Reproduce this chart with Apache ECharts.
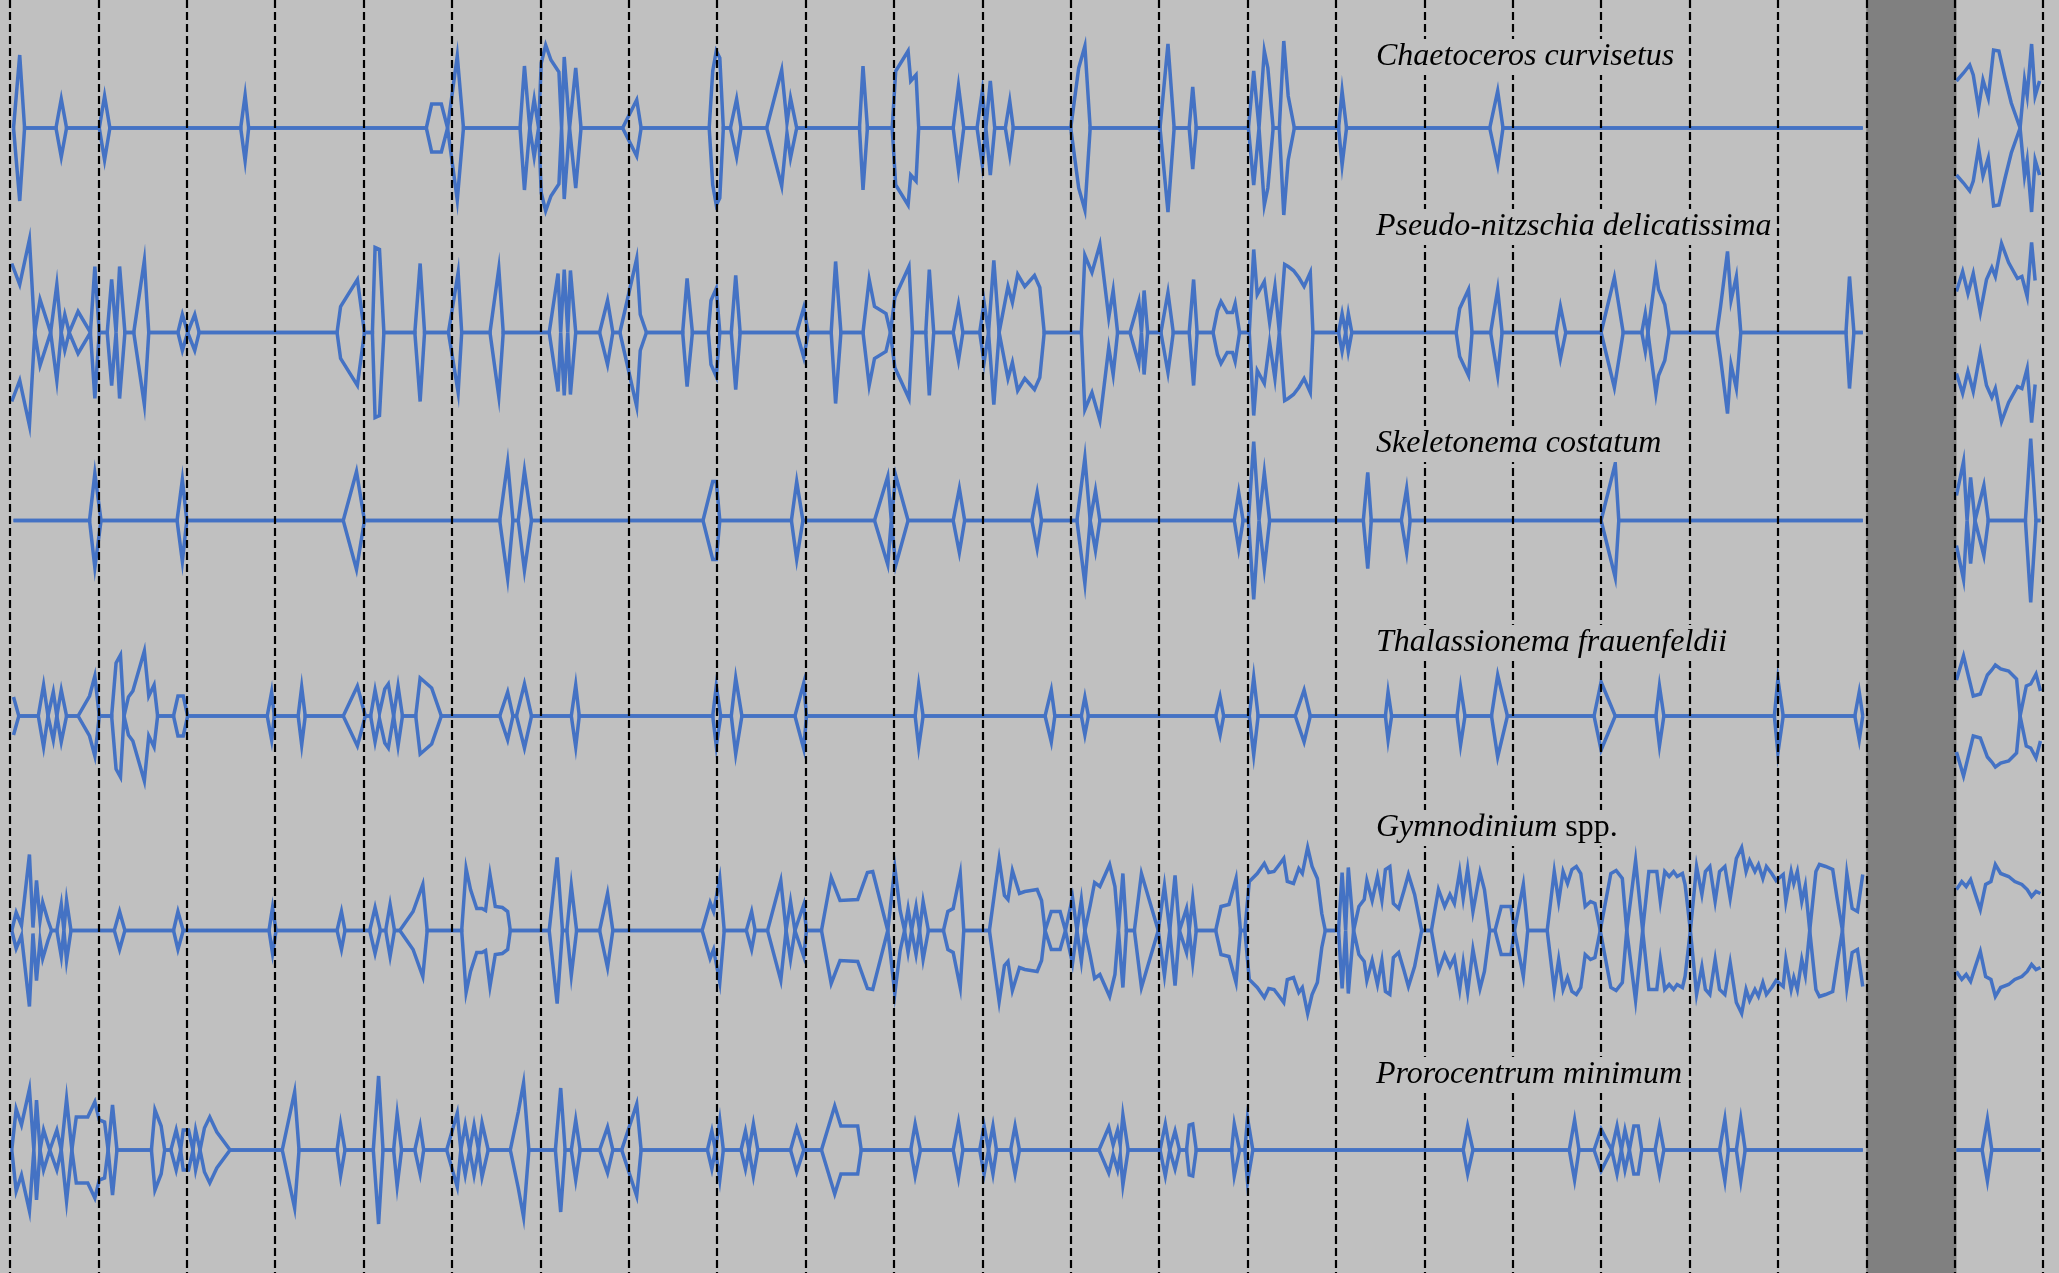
<!DOCTYPE html>
<html><head><meta charset="utf-8">
<script src="https://cdn.jsdelivr.net/npm/echarts@6/dist/echarts.min.js"></script>
<style>html,body{margin:0;padding:0;background:#c0c0c0;overflow:hidden}#chart{width:2059px;height:1273px}</style>
</head><body><div id="chart"></div>
<script>
// Time in years from the first yearly divider (dividers at 0..23); values: kite half-width (abundance units)
const yearTicks = [0,1,2,3,4,5,6,7,8,9,10,11,12,13,14,15,16,17,18,19,20,21,22,23];
const gapYears = [21, 22.02];

const chaetoceros = [[0.04,0],[0.11,7.3],[0.165,0],[0.52,0],[0.58,2.9],[0.64,0],[1.01,0],[1.07,3.2],[1.13,0],[2.61,0],[2.66,3.3],[2.70,0],[4.71,0],[4.77,2.4],[4.88,2.4],[4.95,0],[5.06,7.2],[5.13,0],[5.77,0],[5.82,6.2],[5.88,0],[5.93,2.9],[5.98,0],[6.01,6.5],[6.06,8.3],[6.12,6.8],[6.21,5.6],[6.24,0],[6.27,7.1],[6.33,0],[6.40,6.0],[6.46,0],[6.93,0],[7.09,2.8],[7.14,0],[7.91,0],[7.95,5.7],[7.99,7.7],[8.03,7.0],[8.07,0],[8.15,0],[8.22,2.9],[8.27,0],[8.56,0],[8.73,5.8],[8.79,0.5],[8.83,3.0],[8.90,0],[9.61,0],[9.65,6.2],[9.70,0],[9.98,0],[10.02,5.7],[10.16,7.7],[10.19,4.7],[10.25,5.3],[10.28,0],[10.67,0],[10.73,4.2],[10.79,0],[10.94,0],[11.0,3.7],[11.04,0],[11.09,4.7],[11.14,0],[11.26,0],[11.31,2.7],[11.35,0],[12.0,0],[12.09,6.0],[12.16,8.2],[12.22,0],[13.01,0],[13.10,8.4],[13.17,0],[13.34,0],[13.38,4.1],[13.42,0],[14.01,0],[14.07,5.7],[14.13,0],[14.19,7.7],[14.23,6.0],[14.29,0],[14.36,0],[14.41,8.7],[14.46,3.2],[14.53,0],[15.03,0],[15.07,3.7],[15.12,0],[16.74,0],[16.83,3.7],[16.89,0],[20.96,0],null,[22.02,4.7],[22.10,5.5],[22.17,6.3],[22.21,5.3],[22.27,2.0],[22.32,4.8],[22.38,3.0],[22.44,7.8],[22.50,7.7],[22.57,5.0],[22.64,2.5],[22.74,0],[22.79,4.8],[22.82,3.2],[22.87,8.4],[22.91,3.2],[22.96,4.7]];

const pseudoNitzschia = [[0.02,6.9],[0.11,4.8],[0.22,9.3],[0.28,0],[0.34,3.3],[0.46,0],[0.53,4.8],[0.58,0],[0.62,1.8],[0.67,0],[0.77,2.1],[0.91,0],[0.96,6.6],[1.01,0],[1.10,0],[1.15,5.3],[1.20,0],[1.24,6.6],[1.30,0],[1.40,0],[1.52,7.2],[1.57,0],[1.90,0],[1.95,1.8],[2.01,0],[2.09,1.8],[2.14,0],[3.70,0],[3.74,2.6],[3.93,5.3],[4.01,0],[4.10,0],[4.13,8.5],[4.18,8.3],[4.23,0],[4.58,0],[4.64,6.9],[4.69,0],[4.96,0],[5.01,2.7],[5.07,6.0],[5.11,0],[5.43,0],[5.53,6.4],[5.58,0],[6.10,0],[6.20,5.9],[6.23,0],[6.27,6.3],[6.31,0],[6.34,6.2],[6.40,0],[6.67,0],[6.76,3.2],[6.82,0],[6.90,0],[7.09,7.4],[7.13,1.8],[7.20,0],[7.61,0],[7.66,5.4],[7.72,0],[7.90,0],[7.93,3.2],[7.99,4.4],[8.03,0],[8.16,0],[8.21,5.7],[8.26,0],[8.90,0],[8.98,2.5],[9.03,0],[9.29,0],[9.34,7.1],[9.40,0],[9.65,0],[9.72,5.3],[9.78,2.6],[9.91,1.9],[9.96,0],[10.01,3.5],[10.17,6.6],[10.21,0],[10.36,0],[10.40,6.3],[10.45,0],[10.67,0],[10.73,2.8],[10.78,0],[10.97,0],[11.02,3.0],[11.07,0],[11.13,7.2],[11.19,0],[11.29,4.6],[11.34,3.0],[11.40,5.8],[11.48,4.6],[11.59,5.7],[11.65,4.5],[11.70,0],[12.12,0],[12.16,7.7],[12.24,6.0],[12.33,8.8],[12.43,1.5],[12.48,4.2],[12.53,0],[12.67,0],[12.77,3.1],[12.80,0],[12.83,4.2],[12.87,0],[13.02,0],[13.10,4.0],[13.16,0],[13.34,0],[13.39,5.3],[13.43,0],[13.61,0],[13.66,2.2],[13.70,3.1],[13.77,2.0],[13.83,2.0],[13.86,2.9],[13.91,0],[14.02,0],[14.07,8.3],[14.11,3.8],[14.19,5.1],[14.25,1.0],[14.31,4.6],[14.36,0],[14.42,6.8],[14.46,6.6],[14.52,6.2],[14.58,5.5],[14.64,4.6],[14.71,6.0],[14.74,0],[15.03,0],[15.07,1.9],[15.11,0],[15.14,1.9],[15.18,0],[16.36,0],[16.40,2.4],[16.50,4.3],[16.54,0],[16.75,0],[16.83,4.3],[16.88,0],[17.49,0],[17.54,2.6],[17.60,0],[18.0,0],[18.15,5.5],[18.25,0],[18.46,0],[18.50,1.9],[18.53,0],[18.62,6.1],[18.65,4.3],[18.72,2.8],[18.77,0],[19.31,0],[19.35,2.5],[19.43,8.1],[19.47,3.2],[19.53,5.6],[19.58,0],[20.77,0],[20.81,5.6],[20.86,0],[20.96,0],null,[22.02,4.1],[22.09,6.1],[22.15,3.9],[22.21,5.9],[22.29,2.0],[22.36,5.3],[22.42,6.5],[22.46,5.6],[22.53,8.9],[22.61,7.0],[22.71,5.4],[22.76,5.6],[22.82,3.6],[22.87,9.0],[22.91,5.2]];

const skeletonema = [[0.04,0],[0.90,0],[0.96,4.7],[1.03,0],[1.89,0],[1.95,4.1],[2.0,0],[3.77,0],[3.92,4.9],[4.01,0],[5.54,0],[5.63,5.8],[5.69,0],[5.75,0],[5.82,5.0],[5.90,0],[7.84,0],[7.95,3.9],[7.99,3.9],[8.03,0],[8.84,0],[8.90,3.9],[8.97,0],[9.78,0],[9.93,4.4],[9.97,0],[10.02,4.5],[10.16,0],[10.67,0],[10.74,3.2],[10.80,0],[11.56,0],[11.62,2.8],[11.67,0],[12.07,0],[12.16,6.3],[12.22,0],[12.28,3.0],[12.33,0],[13.85,0],[13.90,2.8],[13.95,0],[14.01,0],[14.07,7.9],[14.13,0],[14.19,4.8],[14.25,0],[15.31,0],[15.36,4.8],[15.40,0],[15.74,0],[15.80,3.2],[15.84,0],[18.0,0],[18.16,5.7],[18.20,0],[20.96,0],null,[22.02,2.5],[22.10,5.9],[22.14,0],[22.18,4.3],[22.23,0],[22.33,3.5],[22.38,0],[22.80,0],[22.86,8.2],[22.92,0],[22.97,0]];

const thalassionema = [[0.04,1.9],[0.10,0],[0.32,0],[0.38,3.1],[0.43,0],[0.49,2.4],[0.53,0],[0.58,2.6],[0.64,0],[0.77,0],[0.90,2.0],[0.96,4.0],[1.01,0],[1.15,0],[1.20,5.3],[1.25,6.1],[1.29,0],[1.34,1.9],[1.39,2.5],[1.52,6.5],[1.57,2.0],[1.63,3.1],[1.67,0],[1.85,0],[1.90,2.0],[1.96,2.0],[2.01,0],[2.91,0],[2.96,2.4],[2.99,0],[3.26,0],[3.30,2.9],[3.34,0],[3.77,0],[3.93,3.0],[4.02,0],[4.08,0],[4.13,2.6],[4.18,0.3],[4.24,2.7],[4.28,3.2],[4.34,0],[4.39,3.0],[4.44,0],[4.59,0],[4.64,3.8],[4.68,3.5],[4.77,2.8],[4.88,0],[5.54,0],[5.63,2.4],[5.69,0],[5.73,0],[5.82,3.2],[5.90,0],[6.35,0],[6.40,3.1],[6.44,0],[7.95,0],[7.99,3.0],[8.04,0],[8.16,0],[8.21,3.8],[8.28,0],[8.88,0],[8.98,3.3],[9.01,0],[10.24,0],[10.28,3.1],[10.33,0],[11.71,0],[11.78,2.6],[11.82,0],[12.12,0],[12.16,1.9],[12.20,0],[13.64,0],[13.69,1.9],[13.73,0],[14.02,0],[14.07,3.9],[14.12,0],[14.54,0],[14.64,2.6],[14.71,0],[15.56,0],[15.59,2.4],[15.63,0],[16.37,0],[16.41,2.9],[16.46,0],[16.76,0],[16.83,4.1],[16.94,0],[17.92,0],[18.0,3.4],[18.16,0],[18.62,0],[18.66,3.0],[18.71,0],[19.96,0],[20.0,3.7],[20.06,0],[20.87,0],[20.92,2.4],[20.96,0],null,[22.02,3.6],[22.10,6.0],[22.21,2.0],[22.29,2.2],[22.37,4.1],[22.42,4.6],[22.46,5.1],[22.52,4.7],[22.61,4.5],[22.70,3.7],[22.74,0],[22.81,3.0],[22.86,3.2],[22.92,4.2],[22.97,2.5]];

const gymnodinium = [[0.02,0],[0.07,1.8],[0.13,0.5],[0.22,7.6],[0.26,0.3],[0.30,5.0],[0.34,1.0],[0.37,2.8],[0.43,1.0],[0.47,0],[0.53,0],[0.58,2.6],[0.61,0],[0.64,3.0],[0.69,0],[1.18,0],[1.24,1.9],[1.30,0],[1.85,0],[1.90,1.9],[1.96,0],[2.93,0],[2.97,2.3],[3.01,0],[3.70,0],[3.75,1.9],[3.79,0],[4.07,0],[4.13,2.3],[4.19,0],[4.25,0],[4.30,2.6],[4.35,0],[4.41,0],[4.56,1.9],[4.67,4.6],[4.72,0],[5.11,0],[5.16,6.2],[5.21,4.1],[5.28,2.2],[5.34,2.2],[5.38,2.0],[5.43,5.6],[5.49,2.4],[5.57,2.3],[5.63,1.9],[5.66,0],[6.10,0],[6.19,7.3],[6.25,0],[6.30,0],[6.35,4.5],[6.41,0],[6.67,0],[6.76,3.7],[6.82,0],[7.83,0],[7.92,2.8],[7.96,1.9],[8.03,5.2],[8.08,0],[8.33,0],[8.39,1.9],[8.43,0],[8.57,0],[8.72,5.0],[8.78,0],[8.83,2.9],[8.88,0],[8.98,2.6],[9.01,0],[9.18,0],[9.29,5.3],[9.39,3.0],[9.59,3.1],[9.70,5.8],[9.76,5.9],[9.93,0],[10.01,6.3],[10.07,2.0],[10.12,0],[10.16,2.2],[10.20,0],[10.25,2.4],[10.29,0],[10.33,2.9],[10.39,0],[10.56,0],[10.61,1.9],[10.67,2.2],[10.75,5.7],[10.79,0],[11.08,0],[11.14,3.9],[11.19,7.1],[11.25,3.5],[11.29,3.1],[11.34,6.0],[11.42,3.7],[11.48,3.9],[11.55,4.0],[11.62,4.1],[11.67,3.0],[11.71,0],[11.78,1.9],[11.88,1.9],[11.94,0],[12.02,3.3],[12.07,0],[12.12,3.1],[12.16,0],[12.22,2.5],[12.27,4.8],[12.33,4.4],[12.44,6.6],[12.50,4.4],[12.54,0],[12.59,5.7],[12.63,0],[12.72,0],[12.80,5.7],[12.89,3.0],[12.99,0],[13.06,4.5],[13.12,0],[13.18,5.5],[13.23,0],[13.31,2.2],[13.34,0],[13.38,3.2],[13.42,0],[13.64,0],[13.70,2.4],[13.79,2.6],[13.87,5.2],[13.92,0],[13.97,0],[14.02,4.9],[14.11,5.7],[14.19,6.7],[14.24,5.8],[14.30,5.9],[14.36,6.6],[14.41,7.2],[14.45,4.9],[14.52,4.7],[14.58,6.2],[14.62,5.7],[14.68,8.3],[14.73,6.4],[14.79,5.2],[14.84,1.7],[14.88,0],[15.03,0],[15.07,5.8],[15.11,0],[15.14,6.3],[15.20,0],[15.26,2.4],[15.32,3.1],[15.35,5.0],[15.41,3.0],[15.47,5.4],[15.52,3.0],[15.56,6.1],[15.61,6.4],[15.65,2.7],[15.71,2.2],[15.77,4.0],[15.82,5.6],[15.89,3.6],[15.97,0],[16.08,0],[16.16,4.1],[16.23,2.4],[16.29,3.6],[16.34,2.7],[16.40,5.9],[16.44,3.2],[16.49,6.2],[16.55,1.9],[16.63,5.8],[16.68,4.1],[16.74,0],[16.80,0],[16.87,2.4],[16.98,2.4],[17.02,0],[17.12,4.6],[17.17,0],[17.39,0],[17.47,5.9],[17.52,2.9],[17.57,5.9],[17.62,4.7],[17.67,6.1],[17.72,6.4],[17.77,5.7],[17.82,2.4],[17.88,2.9],[17.93,2.7],[17.99,0],[18.11,5.7],[18.17,6.0],[18.24,5.2],[18.29,0],[18.39,7.0],[18.47,0],[18.54,5.9],[18.63,5.9],[18.67,2.9],[18.72,5.9],[18.77,5.4],[18.82,5.9],[18.86,5.4],[18.92,5.7],[18.95,4.6],[19.01,0],[19.08,6.4],[19.14,3.6],[19.18,5.9],[19.23,6.4],[19.29,2.9],[19.34,5.9],[19.40,6.4],[19.46,3.2],[19.53,7.2],[19.59,8.3],[19.64,5.9],[19.68,7.0],[19.74,5.9],[19.78,6.6],[19.83,5.2],[19.87,6.4],[19.93,5.7],[19.98,5.0],[20.06,5.6],[20.09,2.9],[20.15,5.9],[20.18,4.7],[20.22,5.9],[20.27,2.9],[20.31,4.5],[20.36,0],[20.43,5.9],[20.47,6.6],[20.54,6.4],[20.62,6.1],[20.67,3.2],[20.73,0],[20.78,5.7],[20.84,2.2],[20.90,1.9],[20.96,5.6],null,[22.02,4.1],[22.08,4.9],[22.13,4.4],[22.18,5.1],[22.23,3.7],[22.29,2.1],[22.35,4.6],[22.41,4.9],[22.46,6.6],[22.52,5.7],[22.61,5.4],[22.68,4.9],[22.76,4.6],[22.82,4.1],[22.87,3.4],[22.92,3.9],[22.97,3.7]];

const prorocentrum = [[0.02,0],[0.07,4.1],[0.13,2.5],[0.22,6.1],[0.27,0],[0.30,5.0],[0.34,0],[0.38,2.0],[0.45,0],[0.53,2.0],[0.58,0],[0.64,5.1],[0.70,0],[0.75,3.3],[0.88,3.3],[0.96,4.8],[1.01,3.0],[1.07,2.8],[1.11,0],[1.16,4.5],[1.21,0],[1.60,0],[1.64,4.0],[1.71,2.4],[1.75,0],[1.82,0],[1.88,2.0],[1.93,0],[1.96,2.0],[2.02,2.0],[2.07,0],[2.10,2.0],[2.15,0],[2.20,2.2],[2.26,3.3],[2.34,1.8],[2.49,0],[3.08,0],[3.22,5.8],[3.27,0],[3.70,0],[3.74,2.6],[3.79,0],[4.11,0],[4.17,7.4],[4.22,0],[4.34,0],[4.38,3.6],[4.43,0],[4.58,0],[4.64,2.4],[4.68,0],[4.94,0],[5.06,3.7],[5.10,0],[5.15,2.5],[5.20,0],[5.25,2.5],[5.30,0],[5.34,2.7],[5.41,0],[5.66,0],[5.75,3.8],[5.81,6.7],[5.87,0],[6.17,0],[6.23,6.2],[6.28,0],[6.35,0],[6.40,3.0],[6.45,0],[6.67,0],[6.76,2.3],[6.82,0],[6.92,0],[7.09,4.6],[7.14,0],[7.89,0],[7.94,1.9],[7.98,0],[8.03,3.0],[8.07,0],[8.27,0],[8.32,1.9],[8.36,0],[8.41,2.6],[8.46,0],[8.83,0],[8.90,2.2],[8.98,0],[9.18,0],[9.33,4.4],[9.40,2.4],[9.59,2.4],[9.63,0],[10.19,0],[10.24,2.6],[10.30,0],[10.67,0],[10.73,2.8],[10.78,0],[10.97,0],[11.02,2.4],[11.07,0],[11.12,2.4],[11.16,0],[11.32,0],[11.37,2.4],[11.42,0],[12.32,0],[12.43,2.3],[12.48,0.5],[12.53,2.0],[12.56,0.5],[12.59,3.5],[12.65,0],[13.01,0],[13.07,2.6],[13.12,0],[13.18,1.9],[13.23,0],[13.31,0],[13.34,2.5],[13.38,2.6],[13.42,0],[13.82,0],[13.85,2.6],[13.91,0],[13.97,0],[14.0,3.2],[14.06,0],[16.44,0],[16.49,2.4],[16.55,0],[17.64,0],[17.70,3.0],[17.75,0],[17.92,0],[18.0,2.1],[18.12,0],[18.18,2.4],[18.23,0],[18.27,2.0],[18.32,0],[18.37,2.4],[18.42,2.4],[18.46,0],[18.61,0],[18.66,2.4],[18.71,0],[19.34,0],[19.40,3.1],[19.44,0],[19.53,0],[19.58,3.1],[19.63,0],[20.96,0],null,[22.02,0],[22.31,0],[22.37,3.1],[22.42,0],[22.97,0]];

const speciesLabels = ['{i|Chaetoceros curvisetus}','{i|Pseudo-nitzschia delicatissima}','{i|Skeletonema costatum}','{i|Thalassionema frauenfeldii}','{i|Gymnodinium} spp.','{i|Prorocentrum minimum}'];
const speciesData = [chaetoceros, pseudoNitzschia, skeletonema, thalassionema, gymnodinium, prorocentrum];

// ---- layout (pixels) ----
const W = 2059, H = 1273;
const baselines = [128, 332.5, 520.5, 716, 930.5, 1150];
const labelCenters = [55, 225, 442, 641, 826, 1073];
const scalePx = 10;           // px per value unit
const xMin = -0.113, xMax = 23.18;
const lineColor = '#4472c4';
const fontSize = 32;

function half(data, base, sign) {
  const out = [];
  let last = 0;
  data.forEach(p => {
    if (p === null) { out.push([last, '-']); }
    else { last = p[0]; out.push([p[0], base + sign * p[1] * scalePx]); }
  });
  return out;
}

const series = [];
speciesData.forEach((d, i) => {
  [-1, 1].forEach(sign => {
    series.push({
      type: 'line', data: half(d, baselines[i], sign),
      showSymbol: false, symbol: 'none', silent: true, animation: false,
      connectNulls: false, z: 3,
      lineStyle: { color: lineColor, width: 3.5, join: 'miter' }
    });
  });
});
series.push({
  type: 'line', data: [], silent: true, animation: false, z: 1,
  markArea: { silent: true, animation: false, itemStyle: { color: '#808080' },
    data: [[{ xAxis: gapYears[0] }, { xAxis: gapYears[1] }]] },
  markLine: { silent: true, animation: false, symbol: ['none', 'none'], label: { show: false },
    lineStyle: { color: '#000', type: [8, 4], width: 2.2 },
    data: yearTicks.map(t => ({ xAxis: t })) }
});

const font = "'Liberation Serif', 'Times New Roman', serif";
const titles = speciesLabels.map((txt, i) => ({
  text: txt, left: 1373, top: labelCenters[i] - 16,
  padding: [2, 3, 2, 3], backgroundColor: '#c0c0c0', z: 10,
  textStyle: { fontFamily: font, fontSize: fontSize, lineHeight: fontSize, fontWeight: 'normal', fontStyle: 'normal', color: '#000',
    rich: { i: { fontFamily: font, fontSize: fontSize, lineHeight: fontSize, fontStyle: 'italic', color: '#000' } } }
}));

const chart = echarts.init(document.getElementById('chart'), null, { renderer: 'canvas', width: W, height: H });
chart.setOption({
  backgroundColor: '#c0c0c0',
  animation: false,
  title: titles,
  grid: { left: 0, right: 0, top: 0, bottom: 0 },
  xAxis: { type: 'value', min: xMin, max: xMax, show: false },
  yAxis: { type: 'value', min: 0, max: H, inverse: true, show: false },
  series: series
});
</script>
</body></html>
